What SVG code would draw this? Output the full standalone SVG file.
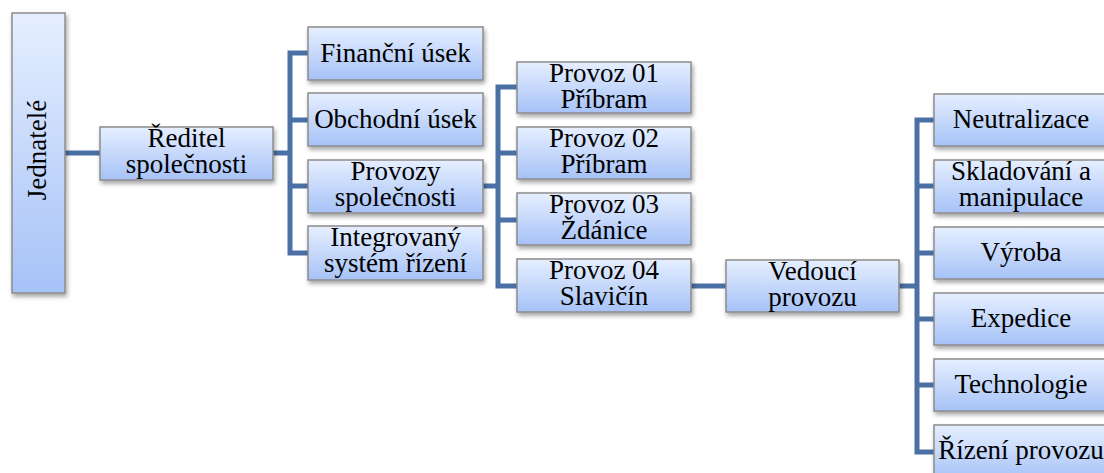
<svg xmlns="http://www.w3.org/2000/svg" width="1104" height="473" viewBox="0 0 1104 473">
<defs>
<linearGradient id="g" x1="0" y1="0" x2="0" y2="1">
<stop offset="0" stop-color="#e6efff"/>
<stop offset="1" stop-color="#a6c2f7"/>
</linearGradient>
<filter id="sh" x="-10%" y="-10%" width="130%" height="140%">
<feDropShadow dx="1.5" dy="3" stdDeviation="2" flood-color="#000" flood-opacity="0.35"/>
</filter>
<style>
.b{fill:url(#g);stroke:#8c8c8c;stroke-width:1.5;filter:url(#sh)}
.c{fill:none;stroke:#4a70a6;stroke-width:5}
text{font-family:'Liberation Serif','Times New Roman',serif;font-size:27px;fill:#000;text-anchor:middle}
</style>
</defs>
<rect width="1104" height="473" fill="#fff"/>
<g id="connectors">
<path class="c" d="M65 153H100"/>
<path class="c" d="M273 153H290M308 53H290V253H308M290 120H308M290 186H308"/>
<path class="c" d="M483 186H498M517 87H498V286H517M498 153H517M498 220H517"/>
<path class="c" d="M691 286H726"/>
<path class="c" d="M899 286H917M934 120H917V452H934M917 186H934M917 253H934M917 319H934M917 385H934"/>
</g>
<g id="jednatele"><rect class="b" x="12" y="13" width="53" height="280"/><text transform="translate(46 150) rotate(-90)">Jednatelé</text></g>
<g id="reditel"><rect class="b" x="100" y="127" width="173" height="53"/><text x="186.5" y="147">Ředitel</text><text x="186.5" y="173">společnosti</text></g>
<g id="financni"><rect class="b" x="308" y="27" width="175" height="53"/><text x="395.5" y="62">Finanční úsek</text></g>
<g id="obchodni"><rect class="b" x="308" y="93" width="175" height="53"/><text x="395.5" y="128">Obchodní úsek</text></g>
<g id="provozy"><rect class="b" x="308" y="160" width="175" height="53"/><text x="395.5" y="180">Provozy</text><text x="395.5" y="206">společnosti</text></g>
<g id="ims"><rect class="b" x="308" y="226" width="175" height="54"/><text x="395.5" y="246">Integrovaný</text><text x="395.5" y="272">systém řízení</text></g>
<g id="provoz01"><rect class="b" x="517" y="62" width="174" height="51"/><text x="604" y="82">Provoz 01</text><text x="604" y="108">Příbram</text></g>
<g id="provoz02"><rect class="b" x="517" y="127" width="174" height="52"/><text x="604" y="147">Provoz 02</text><text x="604" y="173">Příbram</text></g>
<g id="provoz03"><rect class="b" x="517" y="193" width="174" height="52"/><text x="604" y="213">Provoz 03</text><text x="604" y="239">Ždánice</text></g>
<g id="provoz04"><rect class="b" x="517" y="259" width="174" height="53"/><text x="604" y="279">Provoz 04</text><text x="604" y="305">Slavičín</text></g>
<g id="vedouci"><rect class="b" x="726" y="260" width="173" height="52"/><text x="812.5" y="280">Vedoucí</text><text x="812.5" y="306">provozu</text></g>
<g id="neutralizace"><rect class="b" x="934" y="94" width="176" height="52"/><text x="1021" y="128">Neutralizace</text></g>
<g id="skladovani"><rect class="b" x="934" y="160" width="176" height="53"/><text x="1021" y="180">Skladování a</text><text x="1021" y="206">manipulace</text></g>
<g id="vyroba"><rect class="b" x="934" y="227" width="176" height="52"/><text x="1021" y="261">Výroba</text></g>
<g id="expedice"><rect class="b" x="934" y="293" width="176" height="52"/><text x="1021" y="327">Expedice</text></g>
<g id="technologie"><rect class="b" x="934" y="359" width="176" height="52"/><text x="1021" y="393">Technologie</text></g>
<g id="rizeni"><rect class="b" x="934" y="425" width="176" height="55"/><text x="1021" y="459">Řízení provozu</text></g>
</svg>
